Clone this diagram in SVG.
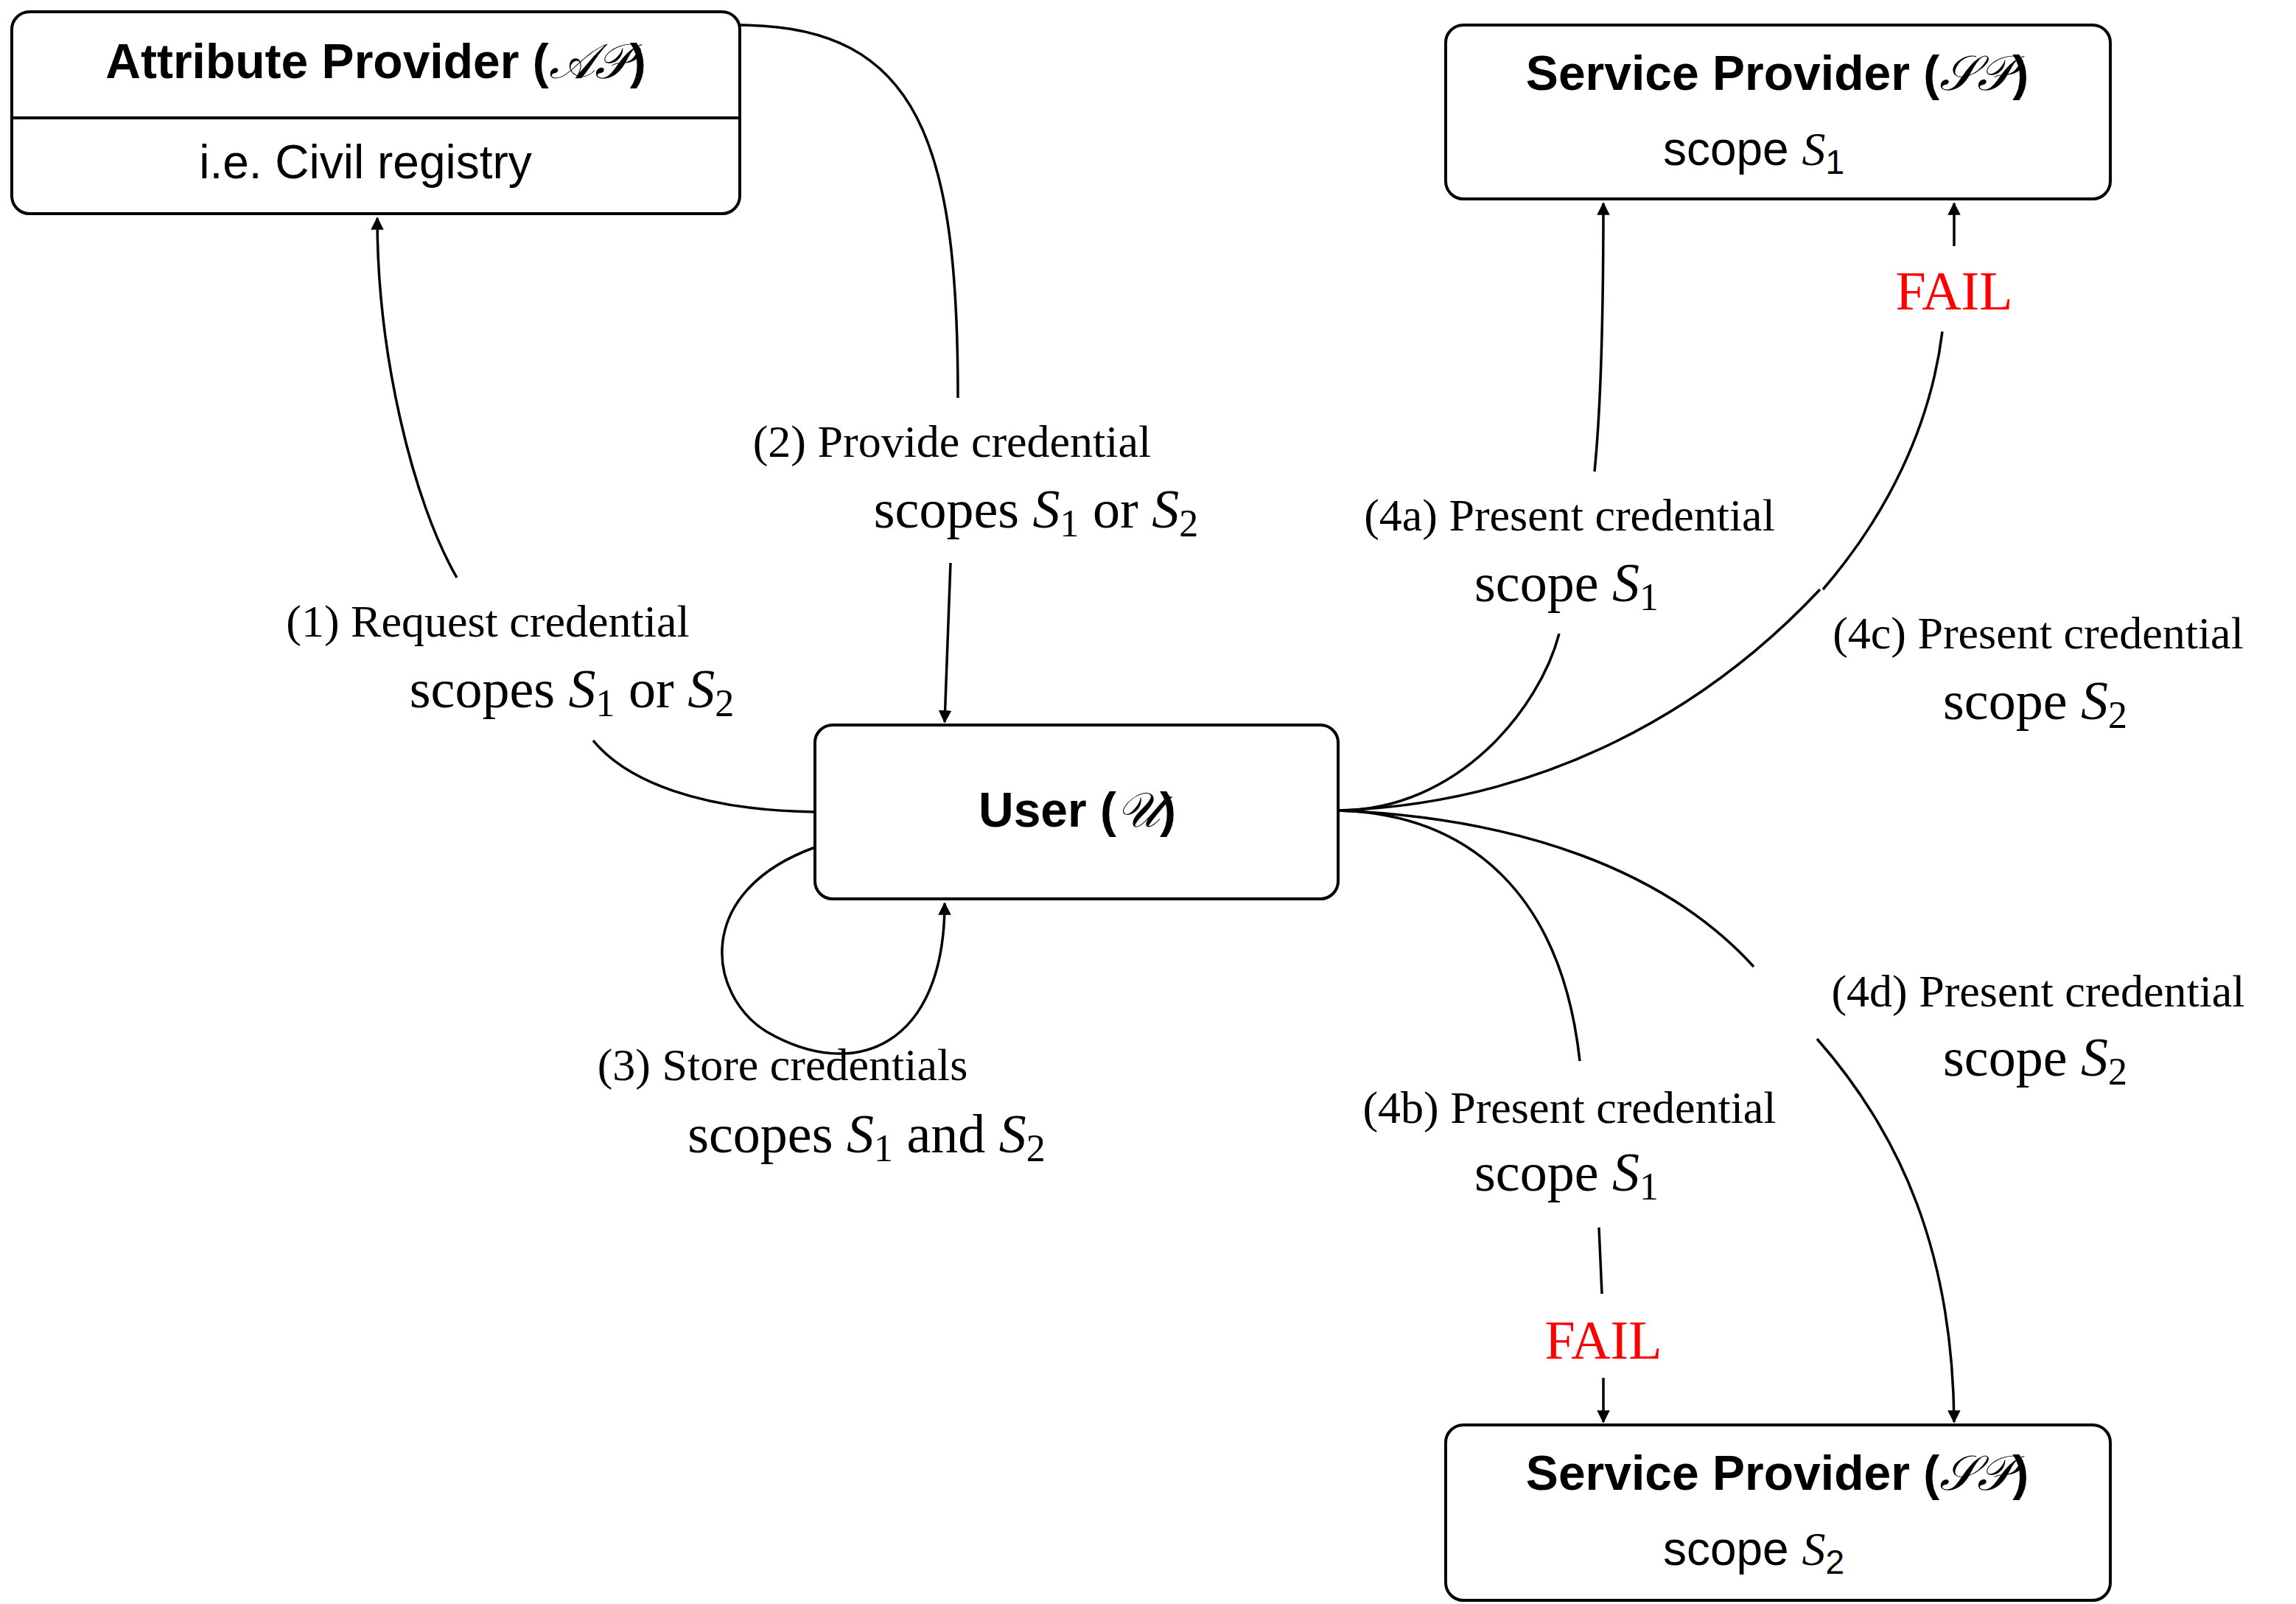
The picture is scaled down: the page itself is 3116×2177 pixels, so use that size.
<svg xmlns="http://www.w3.org/2000/svg" width="3116" height="2177" viewBox="0 0 3116 2177">
<style>
.box{fill:#fff;stroke:#000;stroke-width:4}
.t{font-family:"Liberation Sans",sans-serif;font-size:66px;font-weight:bold;text-anchor:middle}
.s{font-family:"Liberation Sans",sans-serif;font-size:64px;text-anchor:middle}
.l{font-family:"Liberation Serif",serif;font-size:62px;text-anchor:middle}
.b{font-family:"Liberation Serif",serif;font-size:74px;text-anchor:middle}
.f{font-family:"Liberation Serif",serif;font-size:74px;text-anchor:middle;fill:#f00}
.c{font-family:"DejaVu Serif","Noto Sans",serif;font-style:italic;font-weight:normal}
.i{font-style:italic}
.e{fill:none;stroke:#000;stroke-width:3.5}
</style>
<defs><marker id="a" viewBox="0 0 10 10" refX="9" refY="5" markerWidth="5" markerHeight="5" orient="auto"><path d="M0,0L10,5L0,10z" fill="#000"/></marker></defs>
<g id="ap"><rect class="box" x="16" y="16" width="988" height="274" rx="24"/><line x1="16" y1="160" x2="1004" y2="160" stroke="#000" stroke-width="4"/>
<text class="t" x="510" y="106">Attribute Provider (<tspan class="c">𝒜𝒫</tspan>)</text>
<text class="s" x="496" y="242">i.e. Civil registry</text></g>
<g id="sp1"><rect class="box" x="1962" y="34" width="902" height="236" rx="24"/>
<text class="t" x="2412" y="122">Service Provider (<tspan class="c">𝒮𝒫</tspan>)</text>
<text class="s" x="2380" y="224">scope <tspan class="i" font-family="Liberation Serif">S</tspan><tspan font-size="46" dy="12">1</tspan></text></g>
<g id="sp2"><rect class="box" x="1962" y="1934" width="902" height="238" rx="24"/>
<text class="t" x="2412" y="2022">Service Provider (<tspan class="c">𝒮𝒫</tspan>)</text>
<text class="s" x="2380" y="2124">scope <tspan class="i" font-family="Liberation Serif">S</tspan><tspan font-size="46" dy="12">2</tspan></text></g>
<g id="user"><rect class="box" x="1106" y="984" width="710" height="236" rx="24"/>
<text class="t" x="1462" y="1122">User (<tspan class="c">𝒰</tspan>)</text></g>
<g id="edges">
<path class="e" d="M1106,1102 C950,1100 850,1060 805,1005"/>
<path class="e" marker-end="url(#a)" d="M620,784 C560,680 512,480 512,296"/>
<path class="e" d="M1004,34 C1250,34 1300,200 1300,540"/>
<path class="e" marker-end="url(#a)" d="M1290,764 L1282,980"/>
<path class="e" marker-end="url(#a)" d="M1106,1150 C940,1210 960,1350 1040,1400 C1160,1470 1282,1420 1282,1226"/>
<path class="e" d="M1816,1100 C1980,1100 2090,960 2116,860"/>
<path class="e" marker-end="url(#a)" d="M2164,640 C2172,560 2176,420 2176,276"/>
<path class="e" d="M1816,1100 C2100,1090 2320,960 2470,800"/>
<path class="e" d="M2474,800 C2560,700 2620,580 2636,450"/>
<path class="e" marker-end="url(#a)" d="M2652,334 L2652,276"/>
<path class="e" d="M1816,1100 C2000,1105 2120,1220 2144,1440"/>
<path class="e" d="M2170,1666 L2174,1756"/>
<path class="e" marker-end="url(#a)" d="M2176,1870 L2176,1930"/>
<path class="e" d="M1816,1100 C2060,1110 2260,1180 2380,1312"/>
<path class="e" marker-end="url(#a)" d="M2466,1410 C2580,1540 2650,1700 2652,1930"/>
</g>
<g id="labels">
<text class="l" x="662" y="864">(1) Request credential</text>
<text class="b" x="776" y="960">scopes <tspan class="i">S</tspan><tspan font-size="52" dy="12">1</tspan><tspan dy="-12"> or </tspan><tspan class="i">S</tspan><tspan font-size="52" dy="12">2</tspan></text>
<text class="l" x="1292" y="620">(2) Provide credential</text>
<text class="b" x="1406" y="716">scopes <tspan class="i">S</tspan><tspan font-size="52" dy="12">1</tspan><tspan dy="-12"> or </tspan><tspan class="i">S</tspan><tspan font-size="52" dy="12">2</tspan></text>
<text class="l" x="1062" y="1466">(3) Store credentials</text>
<text class="b" x="1176" y="1564">scopes <tspan class="i">S</tspan><tspan font-size="52" dy="12">1</tspan><tspan dy="-12"> and </tspan><tspan class="i">S</tspan><tspan font-size="52" dy="12">2</tspan></text>
<text class="l" x="2130" y="720">(4a) Present credential</text>
<text class="b" x="2126" y="816">scope <tspan class="i">S</tspan><tspan font-size="52" dy="12">1</tspan></text>
<text class="l" x="2766" y="880">(4c) Present credential</text>
<text class="b" x="2762" y="976">scope <tspan class="i">S</tspan><tspan font-size="52" dy="12">2</tspan></text>
<text class="f" x="2652" y="420">FAIL</text>
<text class="l" x="2130" y="1524">(4b) Present credential</text>
<text class="b" x="2126" y="1616">scope <tspan class="i">S</tspan><tspan font-size="52" dy="12">1</tspan></text>
<text class="f" x="2176" y="1844">FAIL</text>
<text class="l" x="2766" y="1366">(4d) Present credential</text>
<text class="b" x="2762" y="1460">scope <tspan class="i">S</tspan><tspan font-size="52" dy="12">2</tspan></text>
</g>
</svg>
